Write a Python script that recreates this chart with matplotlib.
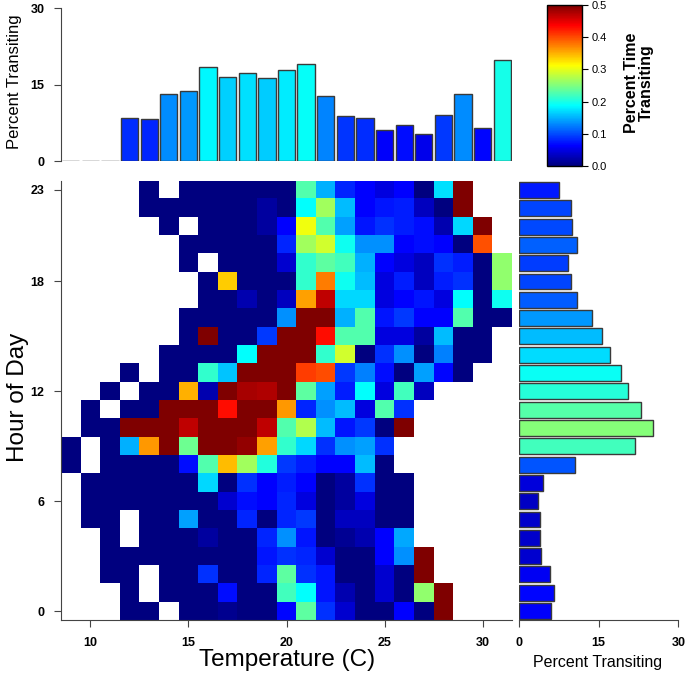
import numpy as np
import matplotlib
matplotlib.use("Agg")
import matplotlib.pyplot as plt
from matplotlib.colors import LinearSegmentedColormap, Normalize
from matplotlib.colorbar import ColorbarBase

plt.rcParams['font.family'] = ['Liberation Sans', 'DejaVu Sans']

# 温度分箱 (C) 与小时
temps = list(range(9, 32))
hours = list(range(24))

N = None
# 每格的通过时间比例，行从23点到0点，列为9..31C，N=无数据
grid_rows = [
    [N, N, N, N, 0, N, 0, 0, 0, 0, 0, 0, .227, .149, .082, .0625, .048, .0625, 0, .172, .5, N, N],            # 23
    [N, N, N, N, 0, 0, 0, 0, 0, 0, .016, 0, .1875, .266, .156, .0625, .074, .078, .032, 0, .5, N, N],         # 22
    [N, N, N, N, N, 0, N, 0, 0, 0, .016, .0625, .305, .227, .141, .074, .086, .078, .07, .024, .168, .5, N],  # 21
    [N, N, N, N, N, N, 0, 0, 0, 0, 0, .082, .266, .29, .195, .133, .133, .0625, .07, .0625, 0, .398, N],      # 20
    [N, N, N, N, N, N, 0, N, 0, 0, 0, .04, .211, .234, .219, .149, .0625, .048, .032, .086, .078, 0, .258],   # 19
    [N, N, N, N, N, N, N, 0, .337, 0, 0, 0, .211, .375, .195, .156, .048, .078, .032, .078, .086, 0, .258],   # 18
    [N, N, N, N, N, N, N, 0, 0, .024, 0, .032, .359, .468, .168, .168, .048, .0625, .074, .048, .1875, 0, .195],  # 17
    [N, N, N, N, N, N, 0, 0, 0, 0, 0, .133, .5, .5, .149, .227, .074, .09, .0625, .0625, .227, 0, 0],         # 16
    [N, N, N, N, N, N, 0, .5, 0, 0, .09, .5, .5, .43, .227, .227, .048, .048, .016, .156, 0, 0, N],           # 15
    [N, N, N, N, N, 0, 0, 0, 0, .1875, .5, .5, .5, .211, .29, 0, .086, .133, 0, .125, 0, 0, N],               # 14
    [N, N, N, 0, N, 0, 0, .211, .16, .5, .5, .5, .408, .40, .09, .125, .07, 0, .141, .066, 0, N, N],          # 13
    [N, N, 0, N, 0, 0, .351, .024, .5, .48, .475, .5, .234, .141, .078, .1875, .048, .219, .032, N, N, N, N], # 12
    [N, 0, N, 0, 0, .5, .5, .5, .43, .5, .5, .362, .082, .133, .156, .048, .227, .086, N, N, N, N, N],        # 11
    [N, 0, 0, .5, .5, .5, .468, .5, .5, .5, .468, .227, .274, .156, .074, .09, 0, .5, N, N, N, N, N],         # 10
    [0, N, 0, .15, .362, .5, .242, .5, .5, .49, .359, .211, .168, .086, .133, .141, .086, N, N, N, N, N, N],  # 9
    [0, N, 0, 0, 0, 0, .07, .227, .345, .266, .205, .09, .078, .0625, .0625, .156, 0, N, N, N, N, N, N],      # 8
    [N, 0, 0, 0, 0, 0, 0, .168, 0, .086, .0625, .078, .0625, 0, .016, .086, 0, 0, N, N, N, N, N],             # 7
    [N, 0, 0, 0, 0, 0, 0, 0, .04, .07, .0625, .082, .048, 0, .016, .048, 0, 0, N, N, N, N, N],                # 6
    [N, 0, 0, N, 0, 0, .141, 0, 0, .082, 0, .082, .09, 0, .032, .032, 0, 0, N, N, N, N, N],                   # 5
    [N, N, 0, N, 0, 0, 0, .016, 0, 0, .082, .133, .074, 0, .01, .024, .0625, .145, N, N, N, N, N],            # 4
    [N, N, 0, 0, 0, 0, 0, 0, 0, 0, .074, .086, .082, .04, 0, 0, .0625, .133, .5, N, N, N, N],                 # 3
    [N, N, 0, 0, N, 0, 0, .086, 0, 0, .082, .234, .086, .074, 0, 0, .04, 0, .5, N, N, N, N],                  # 2
    [N, N, N, 0, N, 0, 0, 0, .07, 0, 0, .219, .1875, .074, .024, 0, .04, 0, .258, .5, N, N, N],               # 1
    [N, N, N, 0, 0, N, 0, 0, .008, 0, 0, .066, .234, .086, .04, 0, 0, .0625, 0, .5, N, N, N],                 # 0
]

# 各温度的通过百分比 (顶部柱状图)
temp_pct = [0, 0, 0, 8.5, 8.2, 13.2, 13.7, 18.5, 16.6, 17.2, 16.3, 17.8,
            19.1, 12.7, 8.9, 8.4, 6.1, 7.0, 5.4, 9.1, 13.2, 6.5, 19.8]
# 各小时的通过百分比 (右侧柱状图), 0点到23点
hour_pct = [6.1, 6.5, 5.8, 4.1, 3.9, 3.9, 3.5, 4.6, 10.5, 21.9, 25.2, 22.9,
            20.6, 19.3, 17.1, 15.6, 13.7, 10.9, 9.7, 9.2, 11.0, 9.9, 9.7, 7.5]

cmap = LinearSegmentedColormap.from_list(
    "jetR", ["#00007F", "#0000FF", "#007FFF", "#00FFFF", "#7FFF7F",
             "#FFFF00", "#FF7F00", "#FF0000", "#7F0000"])
cmap.set_bad("white")
norm = Normalize(0, 0.5)

grid = np.array([[np.nan if v is None else v for v in r] for r in grid_rows])[::-1]
grid = np.ma.masked_invalid(grid)

W, H = 685, 676
fig = plt.figure(figsize=(W / 100, H / 100), dpi=100)

def frac(x0, y0, x1, y1):
    return [x0 / W, 1 - y1 / H, (x1 - x0) / W, (y1 - y0) / H]

edge = "#3a3a3a"

# 热图
ax = fig.add_axes(frac(61, 180.8, 512, 620.2))
ax.imshow(grid, cmap=cmap, norm=norm, origin='lower', aspect='auto',
          interpolation='nearest', extent=(8.5, 31.5, -0.5, 23.5))
ax.set_xlim(8.5, 31.5)
ax.set_ylim(-0.5, 23.5)
ax.set_xticks([10, 15, 20, 25, 30])
ax.set_yticks([0, 6, 12, 18, 23])
for s in ['top', 'right']:
    ax.spines[s].set_visible(False)
for s in ['left', 'bottom']:
    ax.spines[s].set_color('#444444')
ax.tick_params(direction='out', length=5, color='#444444', pad=7)
for lab in ax.get_xticklabels() + ax.get_yticklabels():
    lab.set_fontsize(9)
    lab.set_fontweight('bold')

# 顶部柱状图
axt = fig.add_axes(frac(61, 8.3, 512, 161))
axt.bar(temps, temp_pct, width=0.88, color=cmap(norm(np.array(temp_pct) / 100)),
        edgecolor=edge, linewidth=1.0)
axt.set_xlim(8.5, 31.5)
axt.set_ylim(0, 30)
axt.set_yticks([0, 15, 30])
axt.set_xticks([])
for s in ['top', 'right', 'bottom']:
    axt.spines[s].set_visible(False)
axt.spines['left'].set_color('#444444')
axt.tick_params(direction='out', length=5, color='#444444', pad=7)
for lab in axt.get_yticklabels():
    lab.set_fontsize(9)
    lab.set_fontweight('bold')

# 右侧柱状图
axr = fig.add_axes(frac(519, 180.8, 678.3, 620.2))
axr.barh(hours, hour_pct, height=0.87, color=cmap(norm(np.array(hour_pct) / 100)),
         edgecolor=edge, linewidth=1.0)
axr.set_ylim(-0.5, 23.5)
axr.set_xlim(0, 30)
axr.set_xticks([0, 15, 30])
axr.set_yticks([])
for s in ['top', 'right', 'left']:
    axr.spines[s].set_visible(False)
axr.spines['bottom'].set_color('#444444')
axr.tick_params(direction='out', length=5, color='#444444', pad=7)
for lab in axr.get_xticklabels():
    lab.set_fontsize(9)
    lab.set_fontweight('bold')

# 色标
axc = fig.add_axes(frac(546.7, 5, 581.7, 166))
cb = ColorbarBase(axc, cmap=cmap, norm=norm, orientation='vertical')
cb.set_ticks([0.0, 0.1, 0.2, 0.3, 0.4, 0.5])
cb.set_ticklabels(['0.0', '0.1', '0.2', '0.3', '0.4', '0.5'])
axc.tick_params(labelsize=8, length=4, direction='out')
cb.outline.set_linewidth(1.0)

# 文字
fig.text(18 / W, 1 - 397 / H, 'Hour of Day', rotation=90, fontsize=17.5,
         ha='center', va='center')
fig.text(287 / W, 1 - 660 / H, 'Temperature (C)', fontsize=17.5,
         ha='center', va='center')
fig.text(15 / W, 1 - 82 / H, 'Percent Transiting', rotation=90, fontsize=12,
         ha='center', va='center')
fig.text(597.5 / W, 1 - 663 / H, 'Percent Transiting', fontsize=11.5,
         ha='center', va='center')
fig.text(639 / W, 1 - 83 / H, 'Percent Time\nTransiting', rotation=90,
         fontsize=11.5, fontweight='bold', ha='center', va='center',
         linespacing=1.0)

fig.savefig('out.png', dpi=100)
